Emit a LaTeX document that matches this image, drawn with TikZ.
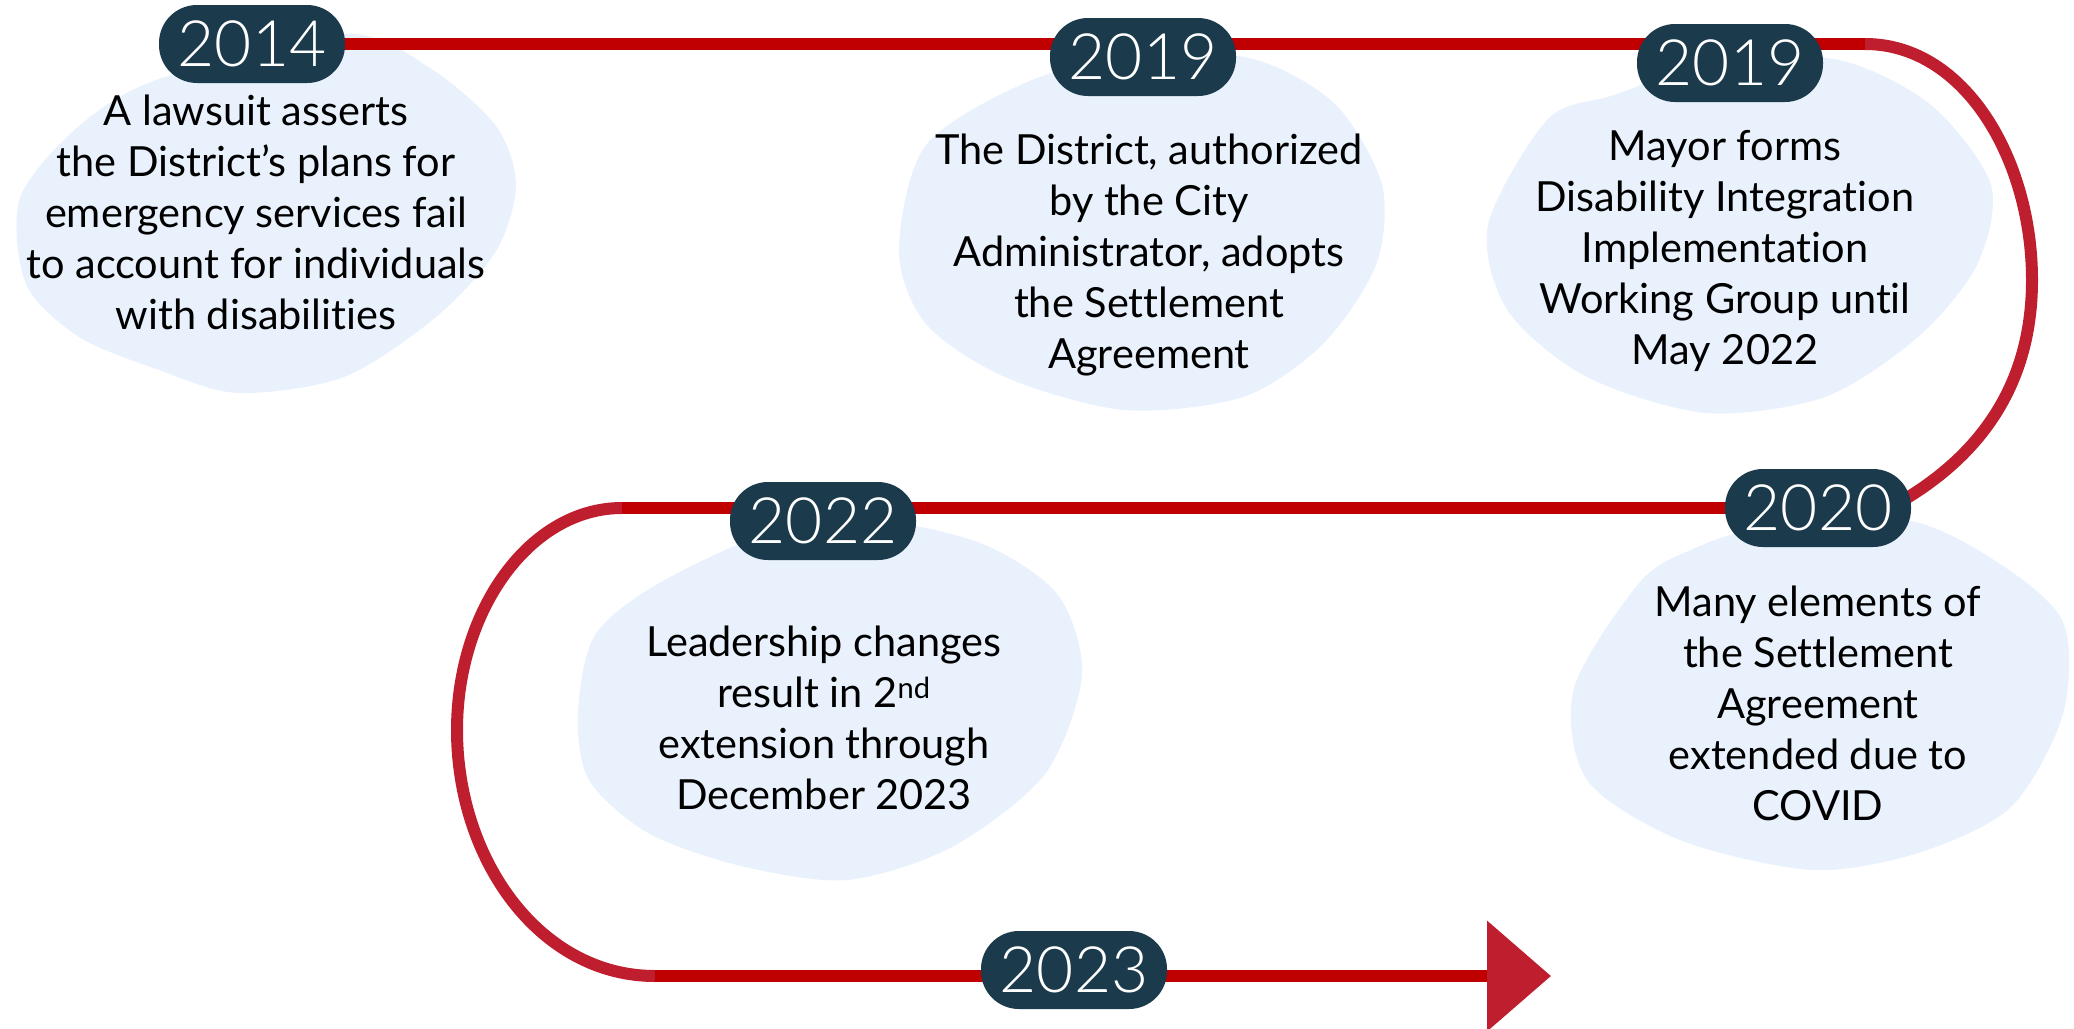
\documentclass[tikz,border=0pt]{standalone}
\usepackage{fontspec}
\setmainfont{Lato}[Ligatures=NoCommon]
\newfontfamily\yearfont{Lato Light}
\usepackage{tikz}
\usetikzlibrary{arrows.meta, backgrounds}
\definecolor{PillNavy}{HTML}{1B3A4B}
\definecolor{TrackRed}{HTML}{C00000}
\definecolor{BendRed}{HTML}{BE1E2D}
\definecolor{BlobBlue}{HTML}{E8F1FC}
\tikzset{
  % Node styles
  yearpill/.style={rectangle, rounded corners=38pt, fill=PillNavy, text=white, minimum width=186pt, minimum height=78pt, inner sep=0pt, font=\yearfont\fontsize{64}{64}\selectfont},
  eventtext/.style={align=center, text=black, inner sep=0pt, font=\fontsize{41.5}{51}\selectfont},
  % Shape styles
  blob/.style={fill=BlobBlue},
  % Line styles
  track/.style={draw=TrackRed, line width=12pt},
  trackbend/.style={draw=BendRed, line width=12pt}
}

\begin{document}
\begin{tikzpicture}[x=1pt, y=-1pt]
  \useasboundingbox (0,0) rectangle (2074,1028);

  % Years
  \node[yearpill] (y2014) at (252,44) {2014};
  \node[yearpill] (y2019a) at (1143,57) {2019};
  \node[yearpill] (y2019b) at (1730,63) {2019};
  \node[yearpill] (y2020) at (1818,508) {2020};
  \node[yearpill] (y2022) at (823,521) {2022};
  \node[yearpill] (y2023) at (1074,970) {2023};

  % Events
  \node[eventtext] (lawsuit) at (256,212) {A lawsuit asserts\\the District’s plans for\\emergency services fail\\to account for individuals\\with disabilities};
  \node[eventtext] (adopt) at (1149,255) {The District, authorized\\by the City\\Administrator, adopts\\the Settlement\\Agreement};
  \node[eventtext] (group) at (1725,251) {Mayor forms\\Disability Integration\\Implementation\\Working Group until\\May 2022};
  \node[eventtext] (covid) at (1818,703) {Many elements of\\the Settlement\\Agreement\\extended due to\\COVID};
  \node[eventtext] (leaders) at (824,718) {Leadership changes\\result in 2\textsuperscript{nd}\\extension through\\December 2023};

  % Turning points of the track
  \coordinate (topturn) at (1865,44);
  \coordinate (rightin) at (1895,505);
  \coordinate (midturn) at (622,508);
  \coordinate (lowturn) at (655,976);
  \coordinate (tip) at (1551,976);

  \begin{scope}[on background layer]
    % Blobs behind the events
    \fill[blob] plot[smooth cycle] coordinates {(159,79) (79,126) (20,198) (26,284) (79,337) (159,370) (238,393) (344,377) (436,317) (496,251) (516,185) (496,126) (430,68) (345,34)};
    \fill[blob] plot[smooth cycle] coordinates {(926,145) (899,251) (926,324) (1005,377) (1124,410) (1243,397) (1323,344) (1376,265) (1382,185) (1336,105) (1257,60) (1151,52) (1032,80)};
    \fill[blob] plot[smooth cycle] coordinates {(1548,119) (1488,225) (1508,311) (1587,377) (1706,413) (1825,397) (1918,337) (1977,265) (1991,185) (1931,105) (1839,60) (1720,60) (1614,95)};
    \fill[blob] plot[smooth cycle] coordinates {(1640,582) (1574,688) (1587,780) (1680,840) (1812,870) (1918,853) (2011,807) (2063,714) (2063,622) (1997,562) (1905,520) (1759,529) (1693,549)};
    \fill[blob] plot[smooth cycle] coordinates {(661,582) (595,635) (578,714) (589,780) (648,833) (741,866) (847,880) (952,847) (1045,774) (1082,675) (1058,595) (985,545) (886,522) (780,529)};

    % Track
    \draw[track] (y2014.center) -- (topturn);
    \draw[trackbend] (topturn) .. controls (1965,44) and (2032,160) .. (2032,280)
      .. controls (2032,390) and (1975,460) .. (rightin);
    \draw[track] (y2020.center) -- (midturn);
    \draw[trackbend] (midturn) .. controls (530,508) and (457,610) .. (457,730)
      .. controls (457,860) and (540,976) .. (lowturn);
    \draw[track, -{Triangle[length=64pt, width=108pt, color=BendRed]}] (lowturn) -- (tip);
  \end{scope}
\end{tikzpicture}
\end{document}
